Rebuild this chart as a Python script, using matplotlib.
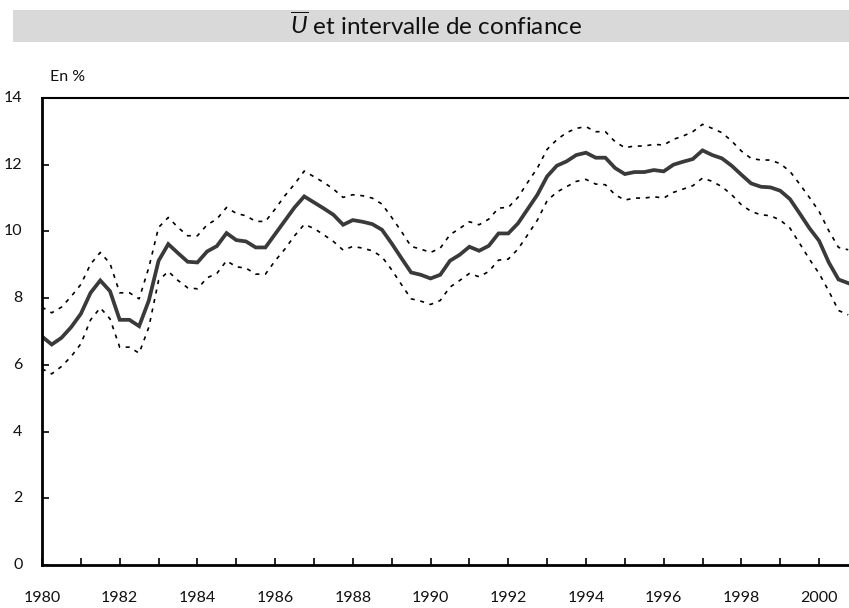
import matplotlib
matplotlib.use("Agg")
import matplotlib.pyplot as plt
import numpy as np
from matplotlib.patches import Rectangle

plt.rcParams['font.family'] = ['Lato', 'DejaVu Sans']
plt.rcParams['mathtext.fontset'] = 'custom'
plt.rcParams['mathtext.it'] = 'Lato:italic'
plt.rcParams['mathtext.rm'] = 'Lato'

start_year = 1980
u_bar = [6.85, 6.61, 6.81, 7.13, 7.53, 8.16, 8.53, 8.21, 7.35, 7.35,
         7.16, 7.93, 9.12, 9.62, 9.35, 9.09, 9.07, 9.40, 9.56, 9.95,
         9.74, 9.70, 9.52, 9.52, 9.92, 10.32, 10.72, 11.05, 10.87, 10.69,
         10.50, 10.20, 10.34, 10.29, 10.22, 10.05, 9.64, 9.20, 8.77, 8.70,
         8.59, 8.70, 9.12, 9.30, 9.54, 9.42, 9.57, 9.94, 9.94, 10.24,
         10.67, 11.10, 11.65, 11.97, 12.10, 12.29, 12.36, 12.21, 12.21, 11.90,
         11.72, 11.78, 11.78, 11.84, 11.80, 12.00, 12.09, 12.17, 12.43, 12.29,
         12.19, 11.97, 11.70, 11.44, 11.34, 11.32, 11.22, 10.97, 10.54, 10.10,
         9.72, 9.07, 8.56, 8.45]
upper = [7.73, 7.56, 7.73, 8.05, 8.41, 9.02, 9.37, 9.04, 8.16, 8.16,
         7.98, 8.92, 10.12, 10.42, 10.12, 9.87, 9.87, 10.20, 10.37, 10.72,
         10.54, 10.47, 10.30, 10.30, 10.67, 11.07, 11.42, 11.81, 11.64, 11.47,
         11.27, 11.02, 11.10, 11.07, 11.00, 10.82, 10.42, 10.00, 9.55, 9.47,
         9.37, 9.50, 9.90, 10.09, 10.29, 10.20, 10.37, 10.70, 10.72, 11.02,
         11.47, 11.90, 12.46, 12.75, 12.96, 13.09, 13.14, 12.99, 12.99, 12.69,
         12.51, 12.56, 12.56, 12.61, 12.59, 12.76, 12.86, 12.99, 13.21, 13.09,
         12.96, 12.71, 12.41, 12.19, 12.14, 12.14, 12.03, 11.80, 11.42, 11.02,
         10.60, 10.02, 9.52, 9.45]
lower = [5.88, 5.73, 5.95, 6.25, 6.63, 7.35, 7.71, 7.38, 6.53, 6.53,
         6.35, 7.13, 8.53, 8.80, 8.53, 8.31, 8.28, 8.61, 8.74, 9.12,
         8.94, 8.90, 8.72, 8.72, 9.12, 9.47, 9.87, 10.21, 10.09, 9.90,
         9.70, 9.44, 9.55, 9.50, 9.42, 9.24, 8.85, 8.41, 7.98, 7.91,
         7.81, 7.93, 8.33, 8.53, 8.74, 8.64, 8.80, 9.14, 9.17, 9.47,
         9.90, 10.34, 10.92, 11.18, 11.34, 11.50, 11.56, 11.42, 11.40, 11.10,
         10.94, 11.00, 11.00, 11.04, 11.00, 11.17, 11.27, 11.37, 11.60, 11.50,
         11.34, 11.10, 10.80, 10.60, 10.50, 10.47, 10.34, 10.10, 9.64, 9.17,
         8.74, 8.21, 7.63, 7.50]
t = start_year + np.arange(len(u_bar)) / 4.0

year_ticks = list(range(1980, 2001))
year_labels = [str(y) if y % 2 == 0 else '' for y in year_ticks]
y_ticks = [0, 2, 4, 6, 8, 10, 12, 14]

W, H = 849, 608
fig = plt.figure(figsize=(W / 100, H / 100), dpi=100)

# title band
fig.patches.append(Rectangle((13 / W, 1 - 42 / H), (W - 13) / W, 32 / H,
                             transform=fig.transFigure, facecolor='#d9d9d9',
                             edgecolor='none', zorder=0))
fig.text(436 / W, 1 - 25 / H, r'$\overline{U}$ et intervalle de confiance',
         ha='center', va='center', fontsize=17.5, color='#111111')
fig.text(50 / W, 1 - 77 / H, 'En %', ha='left', va='center', fontsize=11.5,
         color='#111111')

left, right, top, bottom = 42, 849, 98, 565
ax = fig.add_axes([left / W, 1 - bottom / H, (right - left) / W, (bottom - top) / H])
ax.plot(t, upper, color='black', lw=1.2, dashes=(2.4, 3.4))
ax.plot(t, lower, color='black', lw=1.2, dashes=(2.4, 3.4))
ax.plot(t, u_bar, color='#3a3a3a', lw=2.7, solid_joinstyle='miter')

ax.set_xlim(1980, 2000.77)
ax.set_ylim(0, 14)
ax.set_xticks(year_ticks)
ax.set_xticklabels(year_labels)
ax.set_yticks(y_ticks)
ax.tick_params(axis='both', direction='in', length=5, width=1.2,
               labelsize=11.5, colors='black', labelcolor='#111111')
ax.tick_params(axis='x', pad=19)
ax.tick_params(axis='y', pad=14)
for lab in ax.get_yticklabels():
    lab.set_verticalalignment('center')
ax.spines['right'].set_visible(False)
for s in ['left', 'bottom']:
    ax.spines[s].set_linewidth(2.0)
ax.spines['top'].set_linewidth(1.5)

fig.savefig('out.png', dpi=100)
